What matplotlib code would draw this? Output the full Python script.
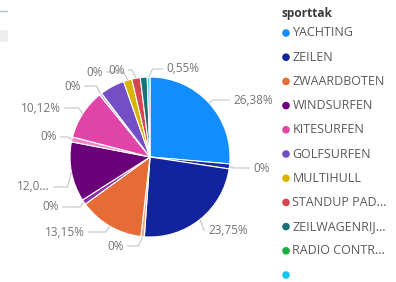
import numpy as np
import matplotlib
matplotlib.use("Agg")
import matplotlib.pyplot as plt
from matplotlib.patches import Rectangle

plt.rcParams['font.family'] = ['Open Sans', 'DejaVu Sans']

# legend categories (Power BI default palette)
legend_names = ['YACHTING', 'ZEILEN', 'ZWAARDBOTEN', 'WINDSURFEN', 'KITESURFEN',
                'GOLFSURFEN', 'MULTIHULL', 'STANDUP PAD...', 'ZEILWAGENRIJ...',
                'RADIO CONTR...', '']
legend_colors = ['#118DFF', '#12239E', '#E66C37', '#6B007B', '#E044A7',
                 '#744EC2', '#D9B300', '#D64550', '#197278', '#1AAB40', '#15C6F4']

# pie slices, clockwise from 12 o'clock
slice_sizes = [26.38, 1.0, 23.75, 0.7, 13.15, 1.0, 12.05, 1.0, 10.12, 0.5,
               5.0, 1.7, 1.7, 1.4, 0.55]
slice_colors = ['#118DFF', '#1A2A9A', '#12239E', '#F2A77C', '#E66C37', '#8A2FA8',
                '#6B007B', '#EC86C6', '#E044A7', '#C7A8E8', '#744EC2', '#D9B300',
                '#D64550', '#197278', '#5CCBF0']
slice_labels = ['26,38%', '0%', '23,75%', '0%', '13,15%', '0%', '12,0...', '0%',
                '10,12%', '0%', '', '0%', '0%', '', '0,55%']

# label placement in pixels (x, y from top, alignment) -- layout only
label_pos = [(233, 100, 'left'), (253, 168, 'left'), (208, 230, 'left'),
             (124, 246, 'right'), (85, 232, 'right'), (59, 207, 'right'),
             (50, 187, 'right'), (57, 137, 'right'), (61, 108, 'right'),
             (81, 86, 'right'), None, (103, 72, 'right'), (125, 70, 'right'),
             None, (166, 69, 'left')]

W, H = 396, 282
fig = plt.figure(figsize=(W / 100, H / 100), dpi=100)
ax = fig.add_axes([0, 0, 1, 1])

cx, cy, r = 150, 157, 80
# y axis is inverted below, so startangle=-90 is 12 o'clock and
# counterclock=True runs clockwise on screen
wedges, _ = ax.pie(slice_sizes, colors=slice_colors, startangle=-90,
                   counterclock=True, center=(cx, cy), radius=r,
                   wedgeprops=dict(edgecolor='white', linewidth=0.8))
ax.set_xlim(0, W)
ax.set_ylim(H, 0)
ax.set_aspect('equal')
ax.axis('off')

for w, lab, pos in zip(wedges, slice_labels, label_pos):
    if pos is None:
        continue
    ang = np.deg2rad((w.theta1 + w.theta2) / 2)
    x0 = cx + r * np.cos(ang)
    y0 = cy + r * np.sin(ang)
    lx, ly, ha = pos
    side = 1 if ha == 'left' else -1
    x1 = x0 + side * 4
    x2 = lx - side * 3
    ax.plot([x0, x1, x2], [y0, ly, ly], color='#C4C4C4', lw=0.8, solid_capstyle='butt')
    ax.text(lx, ly, lab, ha=ha, va='center', fontsize=8.5, color='#747474')

# legend
ax.text(281, 13, 'sporttak', ha='left', va='center',
        fontsize=8.6, fontweight='bold', color='#3A3A3A')
for i, (name, col) in enumerate(zip(legend_names, legend_colors)):
    y = 33 + i * 24.2
    ax.scatter([286], [y], s=30, color=col, edgecolor='none')
    ax.text(292.5, y, name, ha='left', va='center', fontsize=9.0, color='#5A5A5A')

# bits of the surrounding report page
ax.add_patch(Rectangle((0, 30), 8, 12, color='#EEEEEE', lw=0))
ax.plot([0, 7], [11, 11], color='#A9C4D8', lw=1)

fig.savefig('out.png', dpi=100)
